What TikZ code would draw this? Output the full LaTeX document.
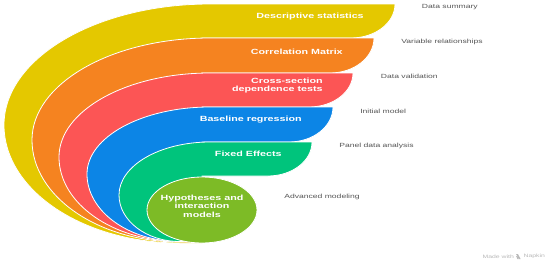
\documentclass[tikz,border=0pt]{standalone}
\usepackage{fontspec}
\setmainfont{Liberation Sans}
\definecolor{cyellow}{RGB}{228,200,0}
\definecolor{corange}{RGB}{245,131,32}
\definecolor{cred}{RGB}{252,85,85}
\definecolor{cblue}{RGB}{12,133,230}
\definecolor{cgreen}{RGB}{0,196,124}
\definecolor{clime}{RGB}{125,187,38}
\definecolor{notegray}{RGB}{85,85,85}
\definecolor{markgray}{RGB}{185,185,185}
\tikzset{
  band/.style={draw=white, line width=0.8pt},
  lab/.style={text=white, font=\fontsize{7.5}{8.6}\selectfont\bfseries, xscale=1.43, inner sep=0pt},
  note/.style={text=notegray, font=\fontsize{6}{7}\selectfont, xscale=1.43, inner sep=0pt, anchor=west},
  footmark/.style={text=markgray, font=\fontsize{4.8}{5.5}\selectfont, xscale=1.43, inner sep=0pt}
}
% #1 colour, #2 top y, #3 bottom y of right end, #4 right x, #5 left x, #6 y of left x, #7 bottom tip y
\newcommand{\drawmyband}[7]{%
  \pgfmathsetmacro\bndk{0.5523}%
  \pgfmathsetmacro\bnda{44}%
  \pgfmathsetmacro\bndcb{#2+\bndk*(#3-#2)}%
  \pgfmathsetmacro\bndcc{#4-\bnda+\bndk*\bnda}%
  \pgfmathsetmacro\bndex{#4-\bnda}%
  \pgfmathsetmacro\bndbc{180-\bndk*(180-#5)}%
  \pgfmathsetmacro\bndbd{#6+\bndk*(#7-#6)}%
  \pgfmathsetmacro\bndtc{#6-\bndk*(#6-#2)}%
  \pgfmathsetmacro\bndtd{210-\bndk*(210-#5)}%
  \path[band, fill=#1] (210,#2) -- (#4,#2)
    .. controls (#4,\bndcb) and (\bndcc,#3) .. (\bndex,#3)
    -- (202,#3) -- (202,#7) -- (180,#7)
    .. controls (\bndbc,#7) and (#5,\bndbd) .. (#5,#6)
    .. controls (#5,\bndtc) and (\bndtd,#2) .. (210,#2) -- cycle;
}
\begin{document}
\begin{tikzpicture}[x=1pt,y=-1pt]
\useasboundingbox (0,0) rectangle (550,263);
\fill[white] (0,0) rectangle (550,263);
% bands, back to front
\drawmyband{cyellow}{4}{38}{395}{4}{125}{243}
\drawmyband{corange}{38}{73}{374}{32}{140}{242}
\drawmyband{cred}{73}{107}{353}{59}{157}{241.5}
\drawmyband{cblue}{107}{142}{333}{87}{174}{241.5}
\drawmyband{cgreen}{142}{176}{312}{119}{195}{241.5}
\path[band, fill=clime] (202,210) ellipse [x radius=55pt, y radius=33pt];
% band labels
\node[lab, anchor=east] (l1) at (364,16.5) {Descriptive statistics};
\node[lab, anchor=east] (l2) at (343,51.5) {Correlation Matrix};
\node[lab, anchor=east, align=right] (l3) at (323,85.5) {Cross-section\\dependence tests};
\node[lab, anchor=east] (l4) at (302,119.5) {Baseline regression};
\node[lab, anchor=east] (l5) at (282,154) {Fixed Effects};
\node[lab, align=center] (l6) at (202,206) {Hypotheses and\\interaction\\models};
% side notes
\node[note] (n1) at (421.7,7.3) {Data summary};
\node[note] (n2) at (401,42) {Variable relationships};
\node[note] (n3) at (380.7,76.7) {Data validation};
\node[note] (n4) at (360,111) {Initial model};
\node[note] (n5) at (339,145.7) {Panel data analysis};
\node[note] (n6) at (284,197.3) {Advanced modeling};
% footer
\node[footmark, anchor=west] (m1) at (482.3,256.7) {Made with};
\node[footmark, anchor=west] (m2) at (523.3,256.7) {Napkin};
\fill[markgray] (516.2,254.2) -- (518,254.2) -- (520.6,259) -- (518.8,259) -- cycle;
\fill[markgray] (516.2,256.2) -- (517.4,256.2) -- (518.6,259) -- (517.4,259) -- cycle;
\end{tikzpicture}
\end{document}
